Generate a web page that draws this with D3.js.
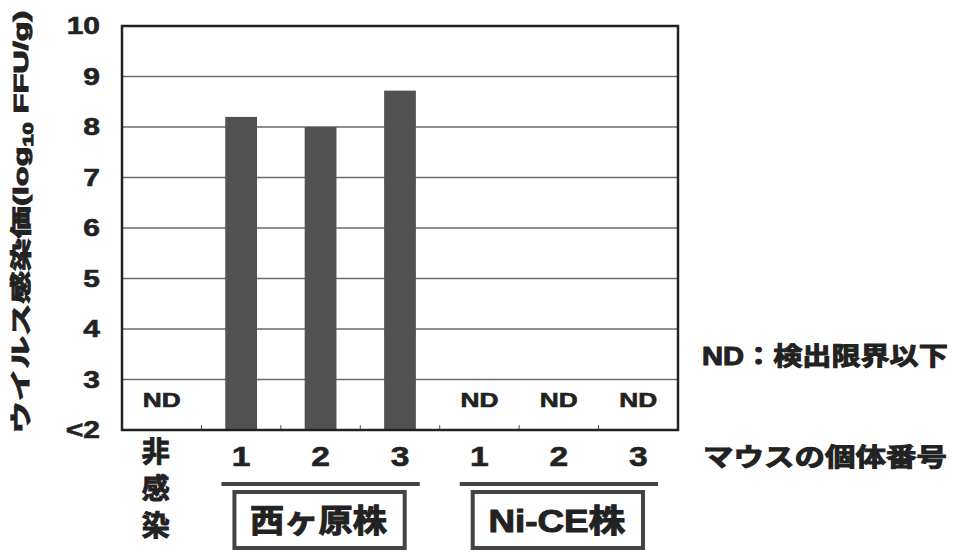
<!DOCTYPE html>
<html>
<head>
<meta charset="utf-8">
<script src="https://cdn.jsdelivr.net/npm/d3@7"></script>
<style>
  body { margin: 0; background: #fff; }
  text { font-family: "Liberation Sans", Arial, "Noto Sans CJK JP", sans-serif; font-weight: bold; fill: #222; stroke: #222; stroke-width: 0.6px; }
  text.cjk { stroke-width: 1px; }
</style>
</head>
<body>
<svg id="chart" width="957" height="552"></svg>
<script>
'use strict';

// data
let categories = ['非感染', '西ヶ原1', '西ヶ原2', '西ヶ原3', 'NiCE1', 'NiCE2', 'NiCE3'];
let mouse_labels = ['', '1', '2', '3', '1', '2', '3'];
let titers = [null, 8.2, 8.0, 8.72, null, null, null];   // null = ND
let y_ticks = [2, 3, 4, 5, 6, 7, 8, 9, 10];
let y_tick_labels = ['<2', '3', '4', '5', '6', '7', '8', '9', '10'];
let group_names = ['西ヶ原株', 'Ni-CE株'];
let group_first = [1, 4];
let group_last = [3, 6];

let svg = d3.select('#chart');
let plot = {left: 122, right: 678, top: 26, bottom: 430};

let x = d3.scaleBand()
    .domain(categories)
    .range([plot.left, plot.right])
    .paddingInner(0.6)
    .paddingOuter(0.3);

let y = d3.scaleLinear()
    .domain([2, 10])
    .range([plot.bottom, plot.top]);

let step = x.step();
let band_start = function(i) { return x(categories[i]) - step * 0.3; };

// puts a text at (px,py), horizontally stretched to a target width (or by a factor)
let put_text = function(parent, str, px, py, size, anchor, target, cls) {
    let t = parent.append('text')
        .attr('class', cls || null)
        .attr('text-anchor', anchor)
        .attr('dominant-baseline', 'central')
        .style('font-size', size + 'px')
        .text(str);
    let len = t.node().getComputedTextLength();
    let sx = target > 5 ? target / len : target;
    t.attr('transform', 'translate(' + px + ',' + py + ') scale(' + sx + ',1)');
    return t;
};

// gridlines
svg.append('g')
    .selectAll('line')
    .data(y_ticks.filter(function(d) { return d > 2 && d < 10; }))
    .enter().append('line')
    .attr('x1', plot.left).attr('x2', plot.right)
    .attr('y1', function(d) { return y(d); })
    .attr('y2', function(d) { return y(d); })
    .attr('stroke', '#6a6a6a')
    .attr('stroke-width', 1.6);

// bars
svg.append('g')
    .selectAll('rect')
    .data(categories.map(function(c, i) { return {c: c, v: titers[i]}; }).filter(function(d) { return d.v != null; }))
    .enter().append('rect')
    .attr('x', function(d) { return x(d.c); })
    .attr('width', x.bandwidth())
    .attr('y', function(d) { return y(d.v); })
    .attr('height', function(d) { return y(2) - y(d.v); })
    .attr('fill', '#525252');

// ND labels
categories.forEach(function(c, i) {
    if (titers[i] == null) {
        put_text(svg, 'ND', x(c) + x.bandwidth() / 2, 400, 20, 'middle', 38);
    }
});

// small ticks at inner band boundaries
svg.append('g')
    .selectAll('line')
    .data(d3.range(1, categories.length))
    .enter().append('line')
    .attr('x1', function(i) { return band_start(i); })
    .attr('x2', function(i) { return band_start(i); })
    .attr('y1', plot.bottom).attr('y2', plot.bottom - 5)
    .attr('stroke', '#555').attr('stroke-width', 1);

// frame
svg.append('rect')
    .attr('x', plot.left).attr('y', plot.top)
    .attr('width', plot.right - plot.left)
    .attr('height', plot.bottom - plot.top)
    .attr('fill', 'none')
    .attr('stroke', '#222')
    .attr('stroke-width', 2.5);

// y tick labels
y_ticks.forEach(function(d, i) {
    put_text(svg, y_tick_labels[i], 100, y(d), 24, 'end', 1.25);
});

// y title, rotated
let yt = svg.append('text')
    .attr('class', 'cjk')
    .attr('text-anchor', 'middle')
    .attr('dominant-baseline', 'central')
    .style('font-size', '21px');
yt.append('tspan').text('ウイルス感染価(log');
yt.append('tspan').attr('baseline-shift', 'sub').style('font-size', '14px').text('10');
yt.append('tspan').text(' FFU/g)');
let yt_len = yt.node().getComputedTextLength();
yt.attr('transform', 'translate(20,222) rotate(-90) scale(' + (423 / yt_len) + ',1)');

// mouse numbers under the axis
categories.forEach(function(c, i) {
    if (mouse_labels[i] != '') {
        put_text(svg, mouse_labels[i], x(c) + x.bandwidth() / 2, 456, 28, 'middle', 1.2);
    }
});

// 非感染 written top to bottom
let uninf = categories[0].split('');
uninf.forEach(function(ch, i) {
    put_text(svg, ch, x(categories[0]) + x.bandwidth() / 2 - 6, 452 + i * 37, 28, 'middle', 1.0, 'cjk');
});

// strain groups: line + boxed name
group_names.forEach(function(name, g) {
    let x0 = band_start(group_first[g]);
    let x1 = band_start(group_last[g]) + step;
    svg.append('line')
        .attr('x1', x0 + 20).attr('x2', x1 - 20)
        .attr('y1', 484).attr('y2', 484)
        .attr('stroke', '#444').attr('stroke-width', 4);
    svg.append('rect')
        .attr('x', x0 + 33).attr('y', 492)
        .attr('width', (x1 - x0) - 68).attr('height', 56)
        .attr('fill', 'none')
        .attr('stroke', '#444').attr('stroke-width', 4);
    put_text(svg, name, (x0 + x1) / 2 - 2, 521, 32, 'middle', 137, 'cjk');
});

// notes on the right
put_text(svg, 'ND：検出限界以下', 702, 356, 25, 'start', 246, 'cjk');
put_text(svg, 'マウスの個体番号', 703, 457, 25, 'start', 244, 'cjk');
</script>
</body>
</html>
